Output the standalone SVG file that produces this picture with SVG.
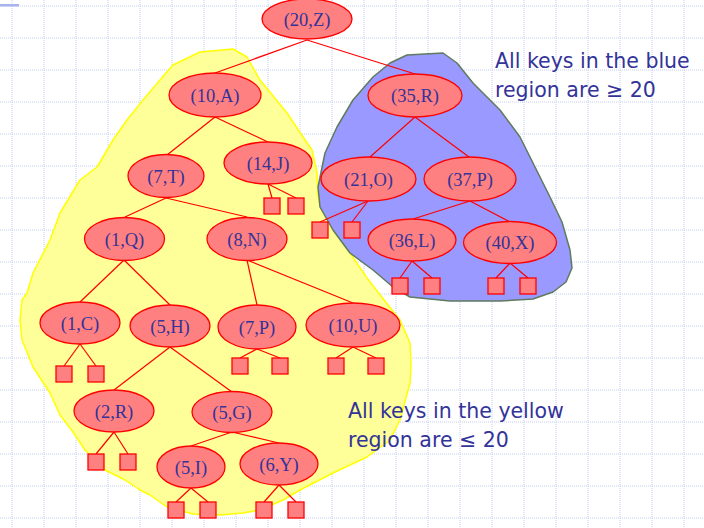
<svg xmlns="http://www.w3.org/2000/svg" width="704" height="528" viewBox="0 0 704 528">
<defs>
<style>
.grid line{stroke:#c4d0f2;stroke-width:1;stroke-dasharray:1,1}
.node ellipse{fill:#ff8080;stroke:#ff0000;stroke-width:1.3}
.node text{font-family:"Liberation Serif","Times New Roman",serif;font-size:18.5px;fill:#333399;text-anchor:middle}
.leaf{fill:#ff8080;stroke:#ff0000;stroke-width:1.3}
#connectors line{stroke:#ff0000;stroke-width:1.2}
.note{font-family:"DejaVu Sans",Verdana,sans-serif;font-size:20.5px;fill:#333399}
</style>
</defs>
<rect width="704" height="528" fill="#ffffff"/>
<g class="grid">
<line x1="12" y1="0" x2="12" y2="528"/><line x1="44" y1="0" x2="44" y2="528"/><line x1="76" y1="0" x2="76" y2="528"/><line x1="108" y1="0" x2="108" y2="528"/><line x1="140" y1="0" x2="140" y2="528"/><line x1="172" y1="0" x2="172" y2="528"/><line x1="204" y1="0" x2="204" y2="528"/><line x1="236" y1="0" x2="236" y2="528"/><line x1="268" y1="0" x2="268" y2="528"/><line x1="300" y1="0" x2="300" y2="528"/><line x1="332" y1="0" x2="332" y2="528"/><line x1="364" y1="0" x2="364" y2="528"/><line x1="396" y1="0" x2="396" y2="528"/><line x1="428" y1="0" x2="428" y2="528"/><line x1="460" y1="0" x2="460" y2="528"/><line x1="492" y1="0" x2="492" y2="528"/><line x1="524" y1="0" x2="524" y2="528"/><line x1="556" y1="0" x2="556" y2="528"/><line x1="588" y1="0" x2="588" y2="528"/><line x1="620" y1="0" x2="620" y2="528"/><line x1="652" y1="0" x2="652" y2="528"/><line x1="684" y1="0" x2="684" y2="528"/>
<line x1="0" y1="6" x2="704" y2="6"/><line x1="0" y1="38" x2="704" y2="38"/><line x1="0" y1="70" x2="704" y2="70"/><line x1="0" y1="102" x2="704" y2="102"/><line x1="0" y1="134" x2="704" y2="134"/><line x1="0" y1="166" x2="704" y2="166"/><line x1="0" y1="198" x2="704" y2="198"/><line x1="0" y1="230" x2="704" y2="230"/><line x1="0" y1="262" x2="704" y2="262"/><line x1="0" y1="294" x2="704" y2="294"/><line x1="0" y1="326" x2="704" y2="326"/><line x1="0" y1="358" x2="704" y2="358"/><line x1="0" y1="390" x2="704" y2="390"/><line x1="0" y1="422" x2="704" y2="422"/><line x1="0" y1="454" x2="704" y2="454"/><line x1="0" y1="486" x2="704" y2="486"/><line x1="0" y1="518" x2="704" y2="518"/>
</g>
<rect x="0" y="4" width="19" height="2.5" fill="#a8b2ec"/>
<g id="yellow-region">
<polygon points="173,65 200,52 233,49 247,57 260,80 287,113 303,137 312,150 317,173 318,195 320,207 333,230 350,253 367,278 388,305 400,320 410,343 411,365 410,383 400,420 390,440 367,457 333,473 300,490 283,500 260,510 243,513 220,515 193,514 167,507 150,495 140,490 125,480 105,470 85,450 73,432 60,415 50,393 33,367 22,340 20,320 22,300 27,293 33,273 50,240 60,213 80,180 97,167 113,140 127,120 143,100 160,80" fill="#ffff99" stroke="#ffff00" stroke-width="1.5" stroke-linejoin="round"/>
</g>
<g id="blue-region">
<polygon points="390,63 407,55 443,53 457,63 473,83 500,110 520,137 535,167 550,197 562,222 570,250 572,268 566,282 553,292 533,299 500,301 450,301 410,297 393,287 373,270 350,253 333,230 320,207 318,187 325,153 337,127 353,100 373,77" fill="#9999ff" stroke="#5f7a5f" stroke-width="1.5" stroke-linejoin="round"/>
</g>
<g id="connectors">
<line x1="307" y1="40" x2="215" y2="73"/>
<line x1="307" y1="40" x2="415" y2="74"/>
<line x1="215" y1="117" x2="167" y2="155"/>
<line x1="215" y1="117" x2="268" y2="142"/>
<line x1="268" y1="184" x2="272" y2="198"/>
<line x1="268" y1="184" x2="296" y2="198"/>
<line x1="166" y1="198" x2="125" y2="217"/>
<line x1="166" y1="198" x2="247" y2="217"/>
<line x1="124" y1="260" x2="80" y2="302"/>
<line x1="124" y1="260" x2="170" y2="305"/>
<line x1="247" y1="260" x2="257" y2="305"/>
<line x1="247" y1="260" x2="353" y2="303"/>
<line x1="80" y1="344" x2="64" y2="366"/>
<line x1="80" y1="344" x2="96" y2="366"/>
<line x1="170" y1="347" x2="114" y2="390"/>
<line x1="170" y1="347" x2="232" y2="392"/>
<line x1="257" y1="349" x2="240" y2="358"/>
<line x1="257" y1="349" x2="280" y2="358"/>
<line x1="353" y1="347" x2="336" y2="358"/>
<line x1="353" y1="347" x2="376" y2="358"/>
<line x1="114" y1="432" x2="96" y2="454"/>
<line x1="114" y1="432" x2="128" y2="454"/>
<line x1="232" y1="432" x2="191" y2="446"/>
<line x1="232" y1="432" x2="279" y2="443"/>
<line x1="191" y1="488" x2="176" y2="502"/>
<line x1="191" y1="488" x2="208" y2="502"/>
<line x1="279" y1="485" x2="264" y2="502"/>
<line x1="279" y1="485" x2="296" y2="502"/>
<line x1="415" y1="117" x2="370" y2="157"/>
<line x1="415" y1="117" x2="469" y2="157"/>
<line x1="368" y1="201" x2="320" y2="222"/>
<line x1="368" y1="201" x2="352" y2="222"/>
<line x1="470" y1="201" x2="413" y2="219"/>
<line x1="470" y1="201" x2="510" y2="222"/>
<line x1="412" y1="261" x2="400" y2="278"/>
<line x1="412" y1="261" x2="432" y2="278"/>
<line x1="510" y1="263" x2="496" y2="278"/>
<line x1="510" y1="263" x2="528" y2="278"/>
</g>
<g id="n20Z" class="node"><ellipse cx="307" cy="19" rx="45" ry="20"/><text x="307" y="25.5">(20,Z)</text></g>
<g id="n10A" class="node"><ellipse cx="215" cy="95" rx="46" ry="22"/><text x="215" y="101.5">(10,A)</text></g>
<g id="n35R" class="node"><ellipse cx="415" cy="95.5" rx="47" ry="21.5"/><text x="415" y="102">(35,R)</text></g>
<g id="n7T" class="node"><ellipse cx="166" cy="176" rx="38" ry="21.5"/><text x="166" y="182.5">(7,T)</text></g>
<g id="n14J" class="node"><ellipse cx="268" cy="163" rx="44" ry="21"/><text x="268" y="169.5">(14,J)</text></g>
<g id="n21O" class="node"><ellipse cx="368.5" cy="179" rx="47.5" ry="22"/><text x="368.5" y="185.5">(21,O)</text></g>
<g id="n37P" class="node"><ellipse cx="470" cy="179" rx="46" ry="22"/><text x="470" y="185.5">(37,P)</text></g>
<g id="n1Q" class="node"><ellipse cx="124.5" cy="239" rx="40" ry="21.5"/><text x="124.5" y="245.5">(1,Q)</text></g>
<g id="n8N" class="node"><ellipse cx="247" cy="239" rx="40" ry="21.5"/><text x="247" y="245.5">(8,N)</text></g>
<g id="n36L" class="node"><ellipse cx="412" cy="240" rx="44" ry="21"/><text x="412" y="246.5">(36,L)</text></g>
<g id="n40X" class="node"><ellipse cx="510" cy="242.5" rx="46.5" ry="21"/><text x="510" y="249">(40,X)</text></g>
<g id="n1C" class="node"><ellipse cx="80" cy="323" rx="40" ry="21"/><text x="80" y="329.5">(1,C)</text></g>
<g id="n5H" class="node"><ellipse cx="170" cy="326" rx="40" ry="21"/><text x="170" y="332.5">(5,H)</text></g>
<g id="n7P" class="node"><ellipse cx="257" cy="327" rx="39" ry="22"/><text x="257" y="333.5">(7,P)</text></g>
<g id="n10U" class="node"><ellipse cx="353" cy="325" rx="47" ry="22"/><text x="353" y="331.5">(10,U)</text></g>
<g id="n2R" class="node"><ellipse cx="114" cy="411" rx="40" ry="21"/><text x="114" y="417.5">(2,R)</text></g>
<g id="n5G" class="node"><ellipse cx="232" cy="412" rx="40" ry="20.5"/><text x="232" y="418.5">(5,G)</text></g>
<g id="n5I" class="node"><ellipse cx="191" cy="467" rx="34" ry="21"/><text x="191" y="473.5">(5,I)</text></g>
<g id="n6Y" class="node"><ellipse cx="279" cy="464" rx="39" ry="21"/><text x="279" y="470.5">(6,Y)</text></g>
<g id="leaves">
<rect class="leaf" x="264" y="198" width="16" height="16"/><rect class="leaf" x="288" y="198" width="16" height="16"/>
<rect class="leaf" x="312" y="222" width="16" height="16"/><rect class="leaf" x="344" y="222" width="16" height="16"/>
<rect class="leaf" x="392" y="278" width="16" height="16"/><rect class="leaf" x="424" y="278" width="16" height="16"/>
<rect class="leaf" x="488" y="278" width="16" height="16"/><rect class="leaf" x="520" y="278" width="16" height="16"/>
<rect class="leaf" x="56" y="366" width="16" height="16"/><rect class="leaf" x="88" y="366" width="16" height="16"/>
<rect class="leaf" x="232" y="358" width="16" height="16"/><rect class="leaf" x="272" y="358" width="16" height="16"/>
<rect class="leaf" x="328" y="358" width="16" height="16"/><rect class="leaf" x="368" y="358" width="16" height="16"/>
<rect class="leaf" x="88" y="454" width="16" height="16"/><rect class="leaf" x="120" y="454" width="16" height="16"/>
<rect class="leaf" x="168" y="502" width="16" height="16"/><rect class="leaf" x="200" y="502" width="16" height="16"/>
<rect class="leaf" x="256" y="502" width="16" height="16"/><rect class="leaf" x="288" y="502" width="16" height="16"/>
</g>
<g id="notes">
<text class="note" x="495" y="67.5">All keys in the blue</text>
<text class="note" x="495" y="97">region are ≥ 20</text>
<text class="note" x="348" y="418">All keys in the yellow</text>
<text class="note" x="348" y="447">region are ≤ 20</text>
</g>
</svg>
